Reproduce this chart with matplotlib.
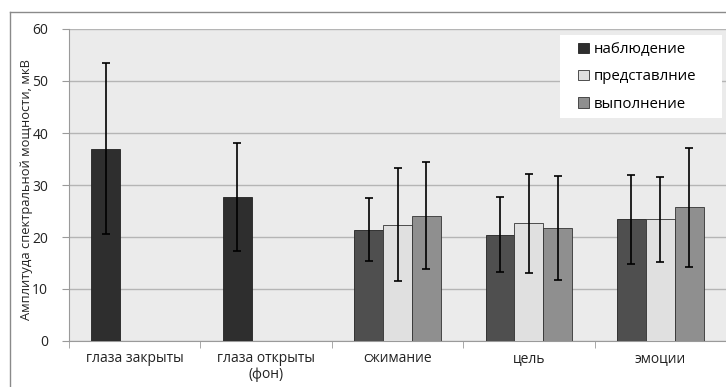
import matplotlib
matplotlib.use("Agg")
import matplotlib.pyplot as plt
import numpy as np
from matplotlib.lines import Line2D
from matplotlib.patches import Patch, Rectangle

plt.rcParams['font.family'] = ['Open Sans', 'DejaVu Sans']

categories = ["глаза закрыты", "глаза открыты\n(фон)", "сжимание", "цель", "эмоции"]
series_names = ["наблюдение", "представлние", "выполнение"]

obs_vals = [37.0, 27.7, 21.4, 20.4, 23.4]
obs_err = [16.5, 10.3, 6.1, 7.2, 8.5]
rep_vals = [np.nan, np.nan, 22.4, 22.6, 23.4]
rep_err = [np.nan, np.nan, 10.8, 9.5, 8.2]
exe_vals = [np.nan, np.nan, 24.1, 21.7, 25.7]
exe_err = [np.nan, np.nan, 10.3, 10.0, 11.5]

yticks = [0, 10, 20, 30, 40, 50, 60]

W, H = 726, 387
fig = plt.figure(figsize=(W/100, H/100), dpi=100)
fig.patch.set_facecolor('white')
ax = fig.add_axes([69/W, 1-341/H, 657/W, 312/H])
ax.set_facecolor('#ebebeb')

x = np.arange(len(categories))
w = 0.22
obs_colors = ['#2e2e2e', '#2e2e2e', '#4f4f4f', '#4f4f4f', '#4f4f4f']
ekw = dict(ecolor='black', elinewidth=1.2, capsize=3, capthick=1.2)

ax.bar(x - w, obs_vals, w, color=obs_colors, edgecolor='#222222', linewidth=0.6,
       yerr=obs_err, error_kw=ekw, zorder=3)
ax.bar(x, rep_vals, w, color='#e0e0e0', edgecolor='#333333', linewidth=0.6,
       yerr=rep_err, error_kw=ekw, zorder=3)
ax.bar(x + w, exe_vals, w, color='#8f8f8f', edgecolor='#333333', linewidth=0.6,
       yerr=exe_err, error_kw=ekw, zorder=3)

ax.set_xlim(-0.5, len(categories) - 0.5)
ax.set_ylim(0, 60)
ax.set_yticks(yticks)
ax.yaxis.grid(True, color='#b5b5b5', linewidth=1.0, zorder=0)
ax.set_axisbelow(True)

ax.set_xticks(x)
ax.set_xticklabels(categories, fontsize=10, color='#222222', linespacing=1.1)
ax.set_xticks(np.arange(-0.5, len(categories)), minor=True)
ax.tick_params(axis='x', which='major', length=0, pad=7)
ax.tick_params(axis='x', which='minor', length=5, color='#9a9a9a')
ax.tick_params(axis='y', length=5, color='#9a9a9a', labelsize=10, labelcolor='#222222', pad=10)

for s in ['top', 'right']:
    ax.spines[s].set_visible(False)
ax.spines['left'].set_color('#9a9a9a')
ax.spines['bottom'].set_color('#9a9a9a')

ax.set_ylabel("Амплитуда спектральной мощности, мкВ", fontsize=9.3, color='#222222')
ax.yaxis.set_label_coords((33-69)/657, 0.484)

# legend background box
fig.add_artist(Rectangle((560/W, 1-118/H), 162/W, 83/H, transform=fig.transFigure,
                         facecolor='white', edgecolor='none', zorder=4))
handles = [Patch(facecolor='#2e2e2e', edgecolor='#222222', linewidth=0.6),
           Patch(facecolor='#e0e0e0', edgecolor='#333333', linewidth=0.6),
           Patch(facecolor='#8f8f8f', edgecolor='#333333', linewidth=0.6)]
leg = fig.legend(handles, series_names, loc='upper left', bbox_to_anchor=(578/W, 1-42/H),
                 bbox_transform=fig.transFigure, frameon=False,
                 fontsize=10.8, handlelength=0.7, handleheight=0.7, handletextpad=0.35,
                 labelspacing=0.82, borderpad=0, borderaxespad=0)
leg.set_zorder(5)

# figure border
fig.add_artist(Line2D([10/W, 10/W], [0, 1-12/H], transform=fig.transFigure, color='#8a8a8a', linewidth=1))
fig.add_artist(Line2D([10/W, 1], [1-12/H, 1-12/H], transform=fig.transFigure, color='#8a8a8a', linewidth=1))

fig.savefig("out.png", dpi=100)
